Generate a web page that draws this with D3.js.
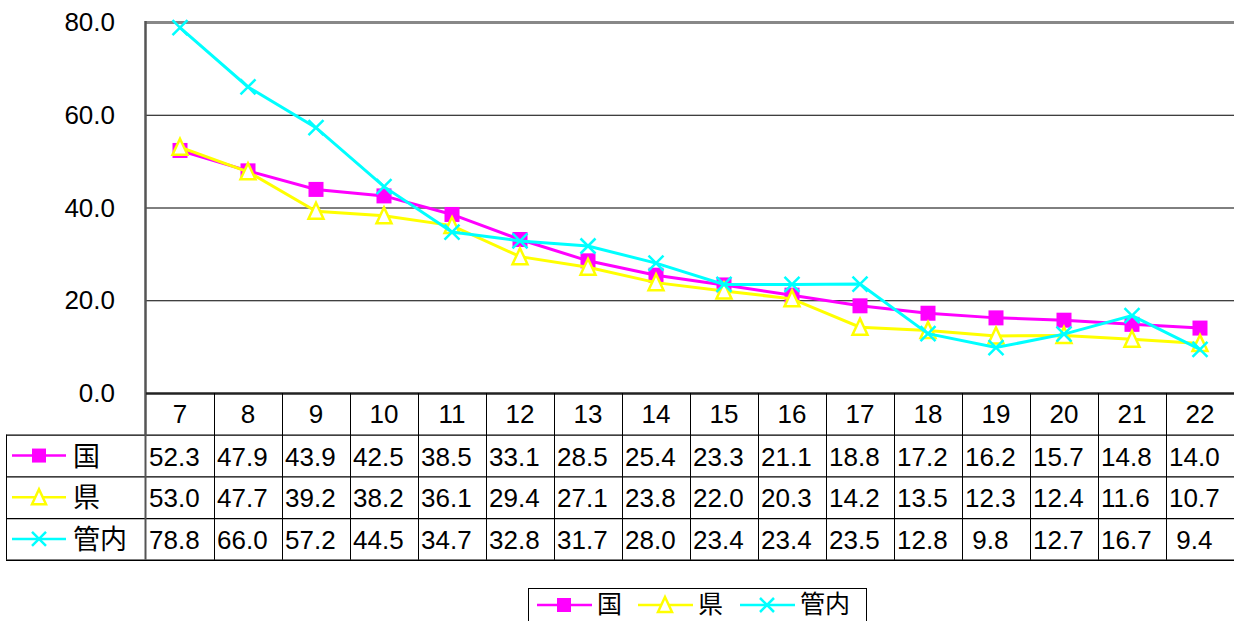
<!DOCTYPE html>
<html>
<head>
<meta charset="utf-8">
<script src="https://cdn.jsdelivr.net/npm/d3@7"></script>
<style>
  body { margin: 0; background: #fff; }
  text { font-family: "Liberation Sans", Arial, sans-serif; fill: #000; white-space: pre; }
  .jp { font-family: "Noto Sans CJK JP", sans-serif; }
</style>
</head>
<body>
<div id="chart"></div>
<script>
const categories = ["7", "8", "9", "10", "11", "12", "13", "14", "15", "16", "17", "18", "19", "20", "21", "22"];
const kuni = [52.3, 47.9, 43.9, 42.5, 38.5, 33.1, 28.5, 25.4, 23.3, 21.1, 18.8, 17.2, 16.2, 15.7, 14.8, 14.0];
const ken = [53.0, 47.7, 39.2, 38.2, 36.1, 29.4, 27.1, 23.8, 22.0, 20.3, 14.2, 13.5, 12.3, 12.4, 11.6, 10.7];
const kannai = [78.8, 66.0, 57.2, 44.5, 34.7, 32.8, 31.7, 28.0, 23.4, 23.4, 23.5, 12.8, 9.8, 12.7, 16.7, 9.4];
const yTicks = [0, 20, 40, 60, 80];

const series = [
    { name: "国", values: kuni, color: "#ff00ff", marker: "square" },
    { name: "県", values: ken, color: "#ffff00", marker: "triangle" },
    { name: "管内", values: kannai, color: "#00ffff", marker: "cross" }
];

const width = 1234;
const height = 621;
const plotLeft = 146;
const plotRight = 1234;
const plotTop = 22;
const plotBottom = 393;
const rowH = 41.7;

const svg = d3.select("#chart")
    .append("svg")
    .attr("width", width)
    .attr("height", height);

const x = d3.scaleBand()
    .domain(categories)
    .range([plotLeft, plotRight]);

const y = d3.scaleLinear()
    .domain([0, 80])
    .range([plotBottom, plotTop]);

// gridlines
svg.append("g")
    .selectAll("line")
    .data(yTicks.filter(d => d > 0 && d < 80))
    .enter()
    .append("line")
    .attr("x1", plotLeft)
    .attr("x2", plotRight)
    .attr("y1", d => y(d) + 0.5)
    .attr("y2", d => y(d) + 0.5)
    .attr("stroke", "#000")
    .attr("stroke-width", 1);

// top border
svg.append("line")
    .attr("x1", plotLeft).attr("x2", plotRight)
    .attr("y1", y(80) + 0.5).attr("y2", y(80) + 0.5)
    .attr("stroke", "#888").attr("stroke-width", 3);

// y axis
const yAxis = d3.axisLeft(y)
    .tickValues(yTicks)
    .tickFormat(d3.format(".1f"))
    .tickSize(0)
    .tickPadding(31);

svg.append("g")
    .attr("id", "y-axis")
    .attr("transform", "translate(" + plotLeft + ",0)")
    .call(yAxis)
    .call(g => g.select(".domain").remove())
    .call(g => g.selectAll("text")
        .attr("dy", "0.33em")
        .style("font-size", "26px")
        .style("font-family", "'Liberation Sans', Arial, sans-serif"));

svg.append("line")
    .attr("x1", plotLeft - 0.5).attr("x2", plotLeft - 0.5)
    .attr("y1", plotTop - 1).attr("y2", plotBottom + 41.5)
    .attr("stroke", "#555").attr("stroke-width", 2.5);

// lines and markers
const line = d3.line()
    .x((d, i) => x(categories[i]) + x.bandwidth() / 2)
    .y(d => y(d));

function drawMarker(g, type, color, cx, cy, s) {
    if (type === "square") {
        g.append("rect")
            .attr("x", cx - s / 2).attr("y", cy - s / 2)
            .attr("width", s).attr("height", s)
            .attr("fill", color);
    } else if (type === "triangle") {
        g.append("path")
            .attr("d", d3.line()([[cx, cy - s / 2 - 1], [cx + s / 2, cy + s / 2], [cx - s / 2, cy + s / 2]]) + "Z")
            .attr("fill", "#fff")
            .attr("stroke", color)
            .attr("stroke-width", 2.5);
    } else {
        g.append("path")
            .attr("d", "M" + (cx - s / 2) + "," + (cy - s / 2) + "L" + (cx + s / 2) + "," + (cy + s / 2) +
                "M" + (cx - s / 2) + "," + (cy + s / 2) + "L" + (cx + s / 2) + "," + (cy - s / 2))
            .attr("stroke", color)
            .attr("stroke-width", 2.5);
    }
}

series.forEach(s => {
    svg.append("path")
        .datum(s.values)
        .attr("fill", "none")
        .attr("stroke", s.color)
        .attr("stroke-width", 3)
        .attr("d", line);
    const g = svg.append("g");
    s.values.forEach((v, i) => {
        drawMarker(g, s.marker, s.color, x(categories[i]) + x.bandwidth() / 2, y(v), 15);
    });
});

// bottom axis line
svg.append("line")
    .attr("x1", plotLeft).attr("x2", plotRight)
    .attr("y1", plotBottom + 0.5).attr("y2", plotBottom + 0.5)
    .attr("stroke", "#222").attr("stroke-width", 2.5);

// data table
const table = svg.append("g").attr("id", "table");
const rowTop = plotBottom + rowH;
const tableBottom = rowTop + rowH * series.length;

table.selectAll("text.cat")
    .data(categories)
    .enter()
    .append("text")
    .attr("class", "cat")
    .attr("x", d => x(d) + x.bandwidth() / 2)
    .attr("y", plotBottom + 30)
    .attr("text-anchor", "middle")
    .style("font-size", "26px")
    .text(d => d);

table.selectAll("line.col")
    .data(categories.slice(1))
    .enter()
    .append("line")
    .attr("class", "col")
    .attr("x1", d => x(d) + 0.5)
    .attr("x2", d => x(d) + 0.5)
    .attr("y1", plotBottom)
    .attr("y2", tableBottom)
    .attr("stroke", "#000");

[0, 1, 2, 3].forEach(i => {
    table.append("line")
        .attr("x1", 6).attr("x2", plotRight)
        .attr("y1", rowTop + i * rowH + 0.5).attr("y2", rowTop + i * rowH + 0.5)
        .attr("stroke", "#000").attr("stroke-width", i === 3 ? 1.5 : 1.2);
});
table.append("line")
    .attr("x1", 6.5).attr("x2", 6.5)
    .attr("y1", rowTop).attr("y2", tableBottom)
    .attr("stroke", "#000");
table.append("line")
    .attr("x1", plotLeft - 0.5).attr("x2", plotLeft - 0.5)
    .attr("y1", rowTop).attr("y2", tableBottom)
    .attr("stroke", "#555").attr("stroke-width", 2);

series.forEach((s, r) => {
    const cy = rowTop + r * rowH + rowH / 2;
    table.append("line")
        .attr("x1", 12).attr("x2", 66)
        .attr("y1", cy).attr("y2", cy)
        .attr("stroke", s.color).attr("stroke-width", 2.5);
    drawMarker(table, s.marker, s.color, 39, cy, 14);
    table.append("text")
        .attr("class", "jp")
        .attr("x", 73)
        .attr("y", cy + 10)
        .style("font-size", "27px")
        .text(s.name);
    table.selectAll(null)
        .data(s.values)
        .enter()
        .append("text")
        .attr("x", (d, i) => x(categories[i]) + 3)
        .attr("y", cy + 10)
        .style("font-size", "26px")
        .text(d => d.toFixed(1).padStart(4, " "));
});

// legend
const legend = svg.append("g").attr("id", "legend");
legend.append("rect")
    .attr("x", 528.5).attr("y", 588.5)
    .attr("width", 338).attr("height", 40)
    .attr("fill", "#fff").attr("stroke", "#000");

const legendPos = [537, 638, 740];
series.forEach((s, i) => {
    const lx = legendPos[i];
    const cy = 605;
    legend.append("line")
        .attr("x1", lx).attr("x2", lx + 55)
        .attr("y1", cy).attr("y2", cy)
        .attr("stroke", s.color).attr("stroke-width", 2.5);
    drawMarker(legend, s.marker, s.color, lx + 27, cy, 14);
    legend.append("text")
        .attr("class", "jp")
        .attr("x", lx + 60)
        .attr("y", cy + 8)
        .style("font-size", "25px")
        .text(s.name);
});
</script>
</body>
</html>
